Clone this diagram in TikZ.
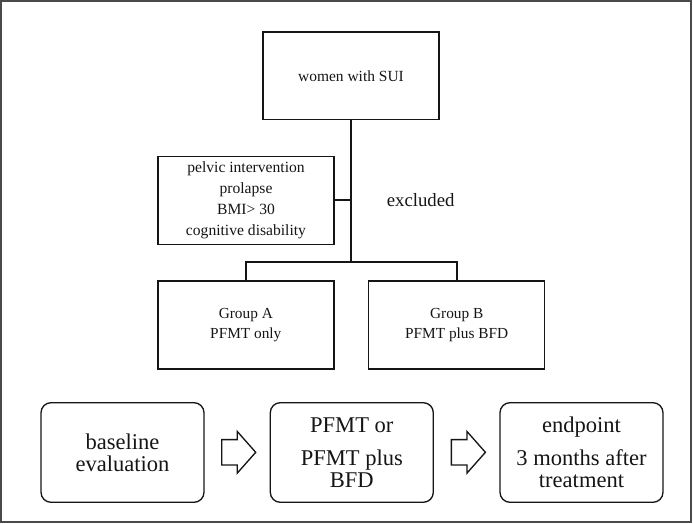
\documentclass[tikz,border=0pt]{standalone}
\usepackage{fontspec}
\setmainfont{Liberation Serif}
\newfontfamily\serifx{Liberation Serif}
\usetikzlibrary{calc}
\definecolor{frame}{HTML}{4A4A4A}
\definecolor{ink}{HTML}{151515}
\begin{document}
\begin{tikzpicture}[x=0.75pt,y=-0.75pt,
  box/.style={draw=ink,line width=1.1pt,inner sep=0pt,align=center,text=ink},
  flowbox/.style={box,minimum width=132pt,minimum height=66pt},
  stagebox/.style={box,line width=1pt,rounded corners=7.5pt,minimum width=122.25pt,minimum height=74.7pt,
    font=\serifx\fontsize{16.9}{16.5}\selectfont},
  conn/.style={draw=ink,line width=1.4pt},
  blockarrow/.style={draw=ink,line width=1pt,line join=miter}]
\useasboundingbox (0,0) rectangle (693,524);
\draw[frame,line width=1.5pt] (1,1) rectangle (690.8,521.5);

\node[flowbox,minimum height=65.6pt,font=\serifx\fontsize{11.6}{14}\selectfont] (sui) at (351,75.75) {women with SUI};
\node[flowbox,font=\serifx\fontsize{11.7}{15.75}\selectfont] (excl) at (246,200.3)
  {pelvic intervention\\prolapse\\BMI> 30\\cognitive disability};
\node[text=ink,font=\serifx\fontsize{14.1}{16}\selectfont] (exl) at (420.7,200) {excluded};
\node[flowbox,font=\serifx\fontsize{11.5}{15}\selectfont] (grpA) at (245.8,325) {Group A\\PFMT only};
\node[flowbox,font=\serifx\fontsize{11.5}{15}\selectfont] (grpB) at (456.7,325) {Group B\\PFMT plus BFD};

\coordinate (jn) at (351.7,262);
\draw[conn] (sui.south) -- (sui.south |- jn);
\draw[conn] (excl.east) -- (excl.east -| sui.south);
\draw[conn] (grpA.north) -- (grpA.north |- jn) -- (grpB.north |- jn) -- (grpB.north);

\node[stagebox] (base) at (122.5,452.5) {baseline\\evaluation};
\node[stagebox] (treat) at (351.8,452.5) {PFMT or\\[8.25pt]PFMT plus\\BFD};
\node[stagebox] (endp) at (581.5,452.5) {endpoint\\[8.25pt]3 months after\\treatment};

\coordinate (a1) at (238.7,452.3);
\coordinate (a2) at (468.4,452.3);
\foreach \a in {a1,a2}{
  \draw[blockarrow] (\a) ++(-17,-12.7) -- ++(15.6,0) -- ++(0,-8.1) -- ++(18.4,20.8)
    -- ++(-18.4,20.8) -- ++(0,-8.1) -- ++(-15.6,0) -- cycle;
}
\end{tikzpicture}
\end{document}
